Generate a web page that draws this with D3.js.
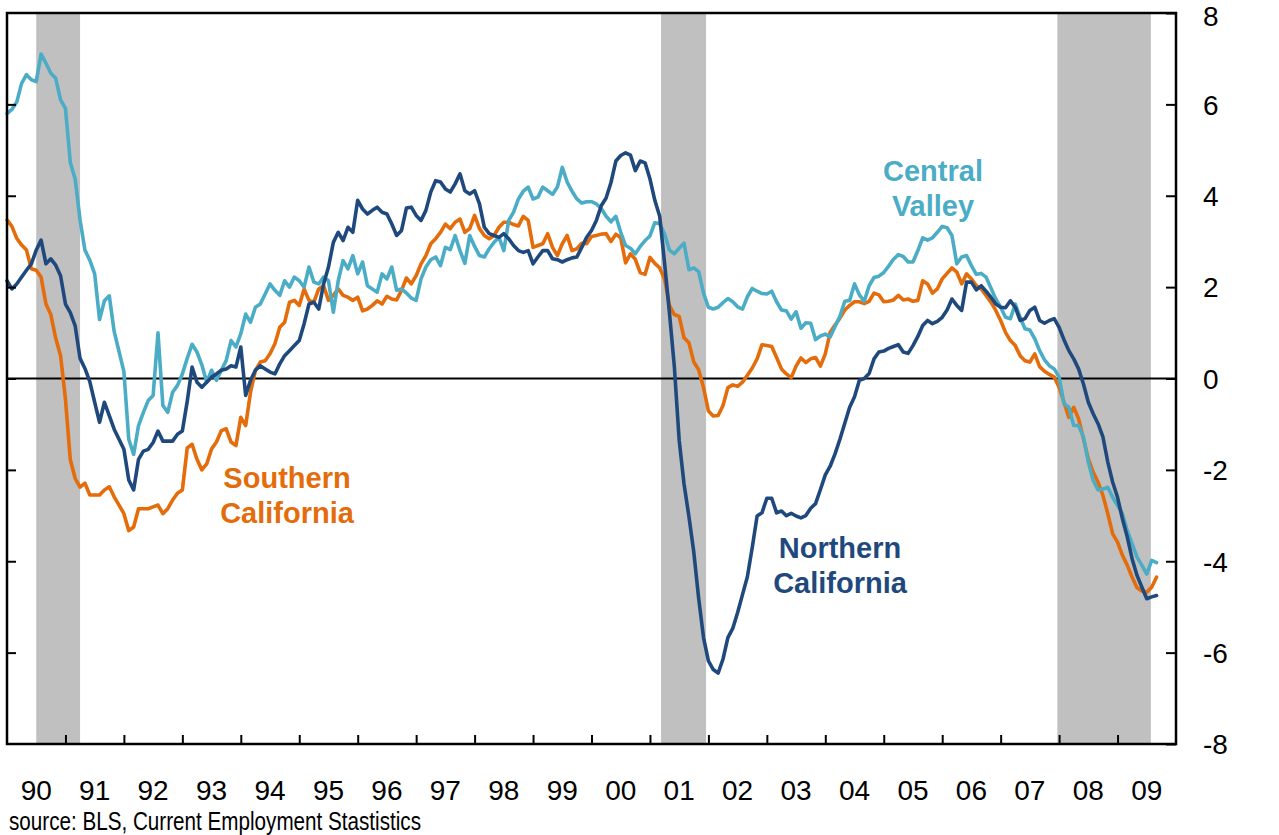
<!DOCTYPE html>
<html>
<head>
<meta charset="utf-8">
<script src="https://cdn.jsdelivr.net/npm/d3@7"></script>
<style>
  body { margin: 0; background: #fff; }
  svg { display: block; font-family: "Liberation Sans", Arial, sans-serif; }
</style>
</head>
<body>
<div id="chart"></div>
<script>
// Monthly series, Jan 1990 .. Sep 2009 (% change, year over year)
const startYear = 1990;

const southern = [
  3.47, 3.33, 3.07, 2.92, 2.81, 2.40, 2.37, 2.22, 1.63, 1.40, 0.88, 0.50, -0.45, -1.78, -2.19, -2.38, -2.29, -2.55, -2.55, -2.55,
  -2.44, -2.37, -2.59, -2.77, -2.96, -3.33, -3.25, -2.85, -2.85, -2.85, -2.81, -2.77, -2.96, -2.85, -2.66, -2.51, -2.44, -1.52, -1.44, -1.77,
  -2.00, -1.87, -1.54, -1.39, -1.14, -1.10, -1.39, -1.47, -0.85, -1.03, -0.30, 0.18, 0.36, 0.39, 0.54, 0.76, 1.12, 1.23, 1.67, 1.71,
  1.60, 1.96, 1.71, 1.67, 1.96, 2.03, 1.71, 1.82, 1.96, 1.82, 1.78, 1.71, 1.78, 1.48, 1.52, 1.60, 1.70, 1.63, 1.80, 1.74,
  1.72, 1.93, 2.20, 2.07, 2.25, 2.51, 2.69, 2.95, 3.06, 3.20, 3.38, 3.28, 3.42, 3.49, 3.20, 3.28, 3.57, 3.28, 3.13, 3.06,
  3.13, 3.31, 3.42, 3.42, 3.37, 3.34, 3.55, 3.46, 2.87, 2.91, 2.95, 3.17, 2.87, 2.69, 2.95, 3.13, 2.80, 2.84, 2.96, 2.95,
  3.11, 3.13, 3.16, 3.17, 3.00, 3.16, 3.08, 2.53, 2.73, 2.61, 2.32, 2.28, 2.65, 2.52, 2.42, 2.18, 1.60, 1.40, 1.36, 0.89,
  0.78, 0.36, 0.19, -0.20, -0.71, -0.82, -0.81, -0.59, -0.20, -0.14, -0.17, -0.08, 0.07, 0.23, 0.43, 0.74, 0.72, 0.70, 0.46, 0.21,
  0.10, 0.02, 0.27, 0.45, 0.35, 0.43, 0.46, 0.27, 0.54, 1.01, 1.17, 1.32, 1.50, 1.60, 1.68, 1.68, 1.64, 1.69, 1.87, 1.83,
  1.68, 1.69, 1.72, 1.82, 1.72, 1.74, 1.69, 1.71, 2.14, 2.07, 1.87, 1.96, 2.18, 2.30, 2.42, 2.33, 2.07, 2.29, 2.18, 2.03,
  1.96, 1.82, 1.67, 1.49, 1.27, 1.01, 0.83, 0.72, 0.50, 0.39, 0.36, 0.54, 0.26, 0.16, 0.09, 0.03, -0.19, -0.52, -0.85, -0.63,
  -0.88, -1.32, -1.76, -2.05, -2.27, -2.56, -2.96, -3.40, -3.58, -3.87, -4.09, -4.35, -4.58, -4.65, -4.68, -4.57, -4.35
];

const central = [
  5.80, 5.89, 6.05, 6.46, 6.65, 6.54, 6.50, 7.10, 6.90, 6.68, 6.57, 6.10, 5.91, 4.73, 4.36, 3.47, 2.81, 2.59, 2.29, 1.29,
  1.70, 1.81, 1.03, 0.59, 0.15, -1.33, -1.66, -1.03, -0.74, -0.48, -0.37, 1.00, -0.59, -0.74, -0.30, -0.15, 0.10, 0.44, 0.75, 0.58,
  0.30, -0.08, 0.18, -0.04, 0.18, 0.39, 0.83, 0.69, 0.98, 1.41, 1.23, 1.56, 1.63, 1.85, 2.07, 1.93, 1.82, 2.14, 2.00, 2.22,
  2.14, 2.00, 2.44, 2.11, 2.07, 2.22, 2.14, 1.45, 2.14, 2.58, 2.40, 2.69, 2.29, 2.55, 2.03, 1.96, 1.89, 2.29, 2.18, 2.44,
  1.93, 1.96, 1.87, 1.76, 1.71, 2.18, 2.44, 2.60, 2.66, 2.47, 2.87, 2.82, 3.13, 2.80, 2.52, 3.13, 2.89, 2.69, 2.66, 2.84,
  2.98, 3.09, 2.80, 3.46, 3.64, 3.93, 4.10, 4.19, 3.93, 3.97, 4.19, 4.11, 4.03, 4.19, 4.62, 4.30, 4.10, 3.93, 3.84, 3.87,
  3.87, 3.82, 3.72, 3.55, 3.43, 3.55, 3.20, 2.91, 2.85, 2.73, 2.89, 3.02, 3.12, 3.41, 3.39, 3.16, 2.81, 2.73, 2.85, 2.96,
  2.38, 2.42, 2.34, 1.87, 1.56, 1.52, 1.56, 1.66, 1.75, 1.68, 1.57, 1.52, 1.79, 1.97, 1.91, 1.86, 1.85, 1.91, 1.68, 1.50,
  1.48, 1.30, 1.46, 1.10, 1.22, 1.21, 0.85, 0.93, 0.97, 0.91, 1.14, 1.36, 1.69, 1.71, 2.07, 1.83, 1.69, 2.03, 2.21, 2.24,
  2.32, 2.46, 2.61, 2.71, 2.67, 2.55, 2.55, 2.80, 3.08, 3.03, 3.08, 3.20, 3.33, 3.30, 3.13, 2.51, 2.66, 2.69, 2.47, 2.28,
  2.30, 2.22, 1.98, 1.74, 1.56, 1.34, 1.31, 1.63, 1.34, 1.09, 1.06, 0.87, 0.61, 0.41, 0.28, 0.21, 0.03, -0.55, -0.63, -1.03,
  -1.03, -1.28, -1.83, -2.23, -2.44, -2.42, -2.38, -2.60, -2.78, -2.96, -3.33, -3.62, -3.91, -4.09, -4.28, -3.98, -4.03
];

const northern = [
  2.14, 1.96, 2.07, 2.22, 2.37, 2.51, 2.81, 3.03, 2.51, 2.62, 2.48, 2.25, 1.63, 1.44, 1.15, 0.44, 0.22, -0.07, -0.52, -0.96,
  -0.52, -0.81, -1.11, -1.33, -1.55, -2.22, -2.44, -1.77, -1.59, -1.55, -1.40, -1.15, -1.37, -1.37, -1.37, -1.22, -1.15, -0.50, 0.25, -0.08,
  -0.19, -0.08, 0.03, 0.10, 0.18, 0.21, 0.28, 0.25, 0.69, -0.37, -0.04, 0.18, 0.28, 0.21, 0.14, 0.10, 0.32, 0.50, 0.61, 0.72,
  0.83, 1.20, 1.63, 1.67, 1.52, 2.07, 2.44, 2.98, 3.20, 3.02, 3.31, 3.20, 3.90, 3.71, 3.60, 3.68, 3.75, 3.64, 3.60, 3.38,
  3.13, 3.24, 3.73, 3.75, 3.57, 3.46, 3.68, 4.08, 4.33, 4.30, 4.15, 4.08, 4.26, 4.48, 4.11, 4.04, 4.11, 3.82, 3.31, 3.17,
  3.13, 3.09, 3.17, 3.06, 2.91, 2.80, 2.76, 2.80, 2.51, 2.66, 2.80, 2.80, 2.62, 2.60, 2.55, 2.60, 2.64, 2.66, 2.87, 3.09,
  3.24, 3.46, 3.78, 3.95, 4.29, 4.76, 4.88, 4.94, 4.89, 4.55, 4.76, 4.72, 4.37, 3.90, 3.55, 2.53, 1.44, 0.27, -1.35, -2.31,
  -3.02, -3.80, -4.81, -5.67, -6.18, -6.37, -6.45, -6.14, -5.67, -5.47, -5.12, -4.73, -4.34, -3.70, -3.01, -2.94, -2.62, -2.62, -2.94, -2.90,
  -3.00, -2.95, -3.01, -3.05, -3.00, -2.84, -2.74, -2.43, -2.11, -1.92, -1.65, -1.33, -0.98, -0.63, -0.40, -0.04, 0.00, 0.11, 0.43, 0.58,
  0.60, 0.66, 0.70, 0.74, 0.58, 0.55, 0.72, 0.92, 1.16, 1.27, 1.20, 1.25, 1.34, 1.50, 1.74, 1.60, 1.49, 2.11, 2.11, 1.94,
  2.03, 1.91, 1.78, 1.63, 1.56, 1.55, 1.70, 1.56, 1.27, 1.31, 1.49, 1.56, 1.27, 1.21, 1.27, 1.31, 1.12, 0.85, 0.61, 0.43,
  0.21, -0.12, -0.52, -0.77, -0.99, -1.28, -1.83, -2.27, -2.60, -3.07, -3.47, -3.95, -4.31, -4.57, -4.82, -4.78, -4.75
];

// NBER recessions as decimal years [start, end]
const recessions = [[1990.5, 1991.25], [2001.19, 2001.96], [2007.97, 2009.57]];

const yTicks = [-8, -6, -4, -2, 0, 2, 4, 6, 8];
const yearLabels = ["90", "91", "92", "93", "94", "95", "96", "97", "98", "99",
                    "00", "01", "02", "03", "04", "05", "06", "07", "08", "09"];
const sourceNote = "source: BLS, Current Employment Stastistics";

// Layout
const width = 1279, height = 835;
const plot = { left: 7, right: 1176, top: 13, bottom: 744 };

const x = d3.scaleLinear().domain([1990, 2010]).range([plot.left, plot.right]);
const y = d3.scaleLinear().domain([-8, 8]).range([plot.bottom, plot.top]);

const svg = d3.select("#chart").append("svg")
    .attr("width", width)
    .attr("height", height);

// Recession shading
svg.append("g")
    .selectAll("rect")
    .data(recessions)
    .join("rect")
    .attr("x", d => x(d[0]))
    .attr("width", d => x(d[1]) - x(d[0]))
    .attr("y", plot.top)
    .attr("height", plot.bottom - plot.top)
    .attr("fill", "#c0c0c0");

// Zero line
svg.append("line")
    .attr("x1", plot.left).attr("x2", plot.right)
    .attr("y1", y(0)).attr("y2", y(0))
    .attr("stroke", "#000")
    .attr("stroke-width", 2);

// Series
const series = [
    { name: "Southern California", values: southern, color: "#e46c0a" },
    { name: "Central Valley", values: central, color: "#4bacc6" },
    { name: "Northern California", values: northern, color: "#1f497d" }
];

const line = d3.line()
    .x((d, i) => x(startYear + i / 12))
    .y(d => y(d));

svg.append("g")
    .attr("fill", "none")
    .selectAll("path")
    .data(series)
    .join("path")
    .attr("d", d => line(d.values))
    .attr("stroke", d => d.color)
    .attr("stroke-width", 3.6)
    .attr("stroke-linejoin", "round")
    .attr("stroke-linecap", "round");

// Frame
svg.append("rect")
    .attr("x", plot.left).attr("y", plot.top)
    .attr("width", plot.right - plot.left)
    .attr("height", plot.bottom - plot.top)
    .attr("fill", "none")
    .attr("stroke", "#000")
    .attr("stroke-width", 2.5);

// Right axis with labels, ticks pointing inward
const rightAxis = svg.append("g")
    .attr("transform", `translate(${plot.right},0)`)
    .call(d3.axisRight(y)
        .tickValues(yTicks)
        .tickFormat(d => String(d))
        .tickSizeInner(-10)
        .tickSizeOuter(0)
        .tickPadding(27));
rightAxis.select(".domain").remove();
rightAxis.selectAll("line").attr("stroke-width", 2);
rightAxis.selectAll("text")
    .attr("fill", "#000")
    .attr("dy", d => d === 8 ? "0.45em" : "0.35em")
    .style("font-size", "28px")
    .style("font-family", "'Liberation Sans', Arial, sans-serif");

// Left ticks (no labels)
const leftAxis = svg.append("g")
    .attr("transform", `translate(${plot.left},0)`)
    .call(d3.axisLeft(y).tickValues(yTicks.slice(1, -1)).tickSize(-9).tickFormat(""));
leftAxis.select(".domain").remove();
leftAxis.selectAll("line").attr("stroke-width", 2);

// Bottom ticks at year boundaries
const bottomAxis = svg.append("g")
    .attr("transform", `translate(0,${plot.bottom})`)
    .call(d3.axisBottom(x).tickValues(d3.range(1991, 2010)).tickSize(-9).tickFormat(""));
bottomAxis.select(".domain").remove();
bottomAxis.selectAll("line").attr("stroke-width", 2);

// Year labels centred in each year
svg.append("g")
    .style("font-size", "28px")
    .attr("text-anchor", "middle")
    .selectAll("text")
    .data(yearLabels)
    .join("text")
    .attr("x", (d, i) => x(startYear + i + 0.5))
    .attr("y", 800)
    .text(d => d);

// Series labels
const labels = [
    { lines: ["Central", "Valley"], color: "#4bacc6", x: 933, y: 181 },
    { lines: ["Southern", "California"], color: "#e46c0a", x: 287, y: 488 },
    { lines: ["Northern", "California"], color: "#1f497d", x: 840, y: 558 }
];

labels.forEach(l => {
    svg.append("text")
        .attr("text-anchor", "middle")
        .attr("fill", l.color)
        .style("font-size", "29px")
        .style("font-weight", "bold")
        .selectAll("tspan")
        .data(l.lines)
        .join("tspan")
        .attr("x", l.x)
        .attr("y", (d, i) => l.y + i * 35)
        .text(d => d);
});

// Source note
svg.append("text")
    .attr("x", 9)
    .attr("y", 830)
    .attr("textLength", 412)
    .attr("lengthAdjust", "spacingAndGlyphs")
    .style("font-size", "25px")
    .text(sourceNote);
</script>
</body>
</html>
